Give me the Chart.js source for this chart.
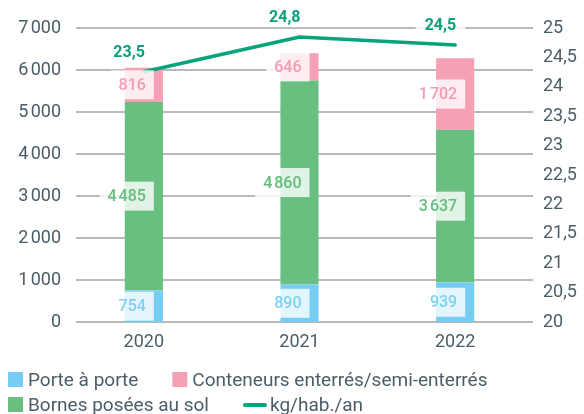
<!DOCTYPE html>
<html>
<head>
<meta charset="utf-8">
<script src="https://cdn.jsdelivr.net/npm/chart.js@4/dist/chart.umd.min.js"></script>
<style>
html,body{margin:0;padding:0;background:#ffffff;}
#wrap{width:584px;height:414px;position:relative;}
</style>
</head>
<body>
<div id="wrap"><canvas id="c" width="584" height="414"></canvas></div>
<script>
// ---- Data ----
const categories = ['2020', '2021', '2022'];
const porteAPorte = [754, 890, 939];          // Porte à porte
const bornesSol = [4485, 4860, 3637];         // Bornes posées au sol
const conteneurs = [816, 646, 1702];          // Conteneurs enterrés/semi-enterrés
const kgHabAn = [23.5, 24.8, 24.5];           // kg/hab./an
const leftTicks = [0, 1000, 2000, 3000, 4000, 5000, 6000, 7000];
const rightTicks = [20, 20.5, 21, 21.5, 22, 22.5, 23, 23.5, 24, 24.5, 25];

// ---- Styles ----
const FONT = 'Roboto, "Open Sans", sans-serif';
const AXIS_COLOR = '#4b5d67';
const C_BLUE = '#76cdf3';
const C_GREEN = '#68bf80';
const C_PINK = '#f4a1b6';
const C_LINE = '#06a47c';
const L_BLUE = '#7fd0f3';
const L_GREEN = '#64bb7c';
const L_PINK = '#f39cb3';
const L_LINE = '#0a9f79';

const fmtThousands = (v, sep) => {
  const s = String(Math.round(v));
  return s.replace(/\B(?=(\d{3})+(?!\d))/g, sep);
};
const fmtDecimal = v => String(v).replace('.', ',');

const gridPlugin = {
  id: 'gridPlugin',
  beforeDatasetsDraw(chart) {
    const ctx = chart.ctx;
    const y = chart.scales.y;
    const {left, right} = chart.chartArea;
    ctx.save();
    ctx.strokeStyle = '#a2a2a2';
    ctx.lineWidth = 1.5;
    y.ticks.forEach(t => {
      const py = Math.round(y.getPixelForValue(t.value));
      ctx.beginPath();
      ctx.moveTo(left + 10, py);
      ctx.lineTo(right, py);
      ctx.stroke();
    });
    ctx.restore();
  }
};

const labelPlugin = {
  id: 'labelPlugin',
  afterDatasetsDraw(chart) {
    const ctx = chart.ctx;
    ctx.save();
    // bar labels
    const barColors = [L_BLUE, L_GREEN, L_PINK];
    [0, 1, 2].forEach(di => {
      const meta = chart.getDatasetMeta(di);
      const ds = chart.data.datasets[di];
      meta.data.forEach((el, i) => {
        const v = ds.data[i];
        const txt = fmtThousands(v, '\u202F');
        ctx.font = '500 16px ' + FONT;
        const w = ctx.measureText(txt).width;
        const right = el.x + 2;
        const cy = (el.y + el.base) / 2;
        ctx.fillStyle = 'rgba(255,255,255,0.8)';
        ctx.fillRect(right - w - 8, cy - 14.5, w + 16, 29);
        ctx.fillStyle = barColors[di];
        ctx.textAlign = 'right';
        ctx.textBaseline = 'middle';
        ctx.fillText(txt, right, cy + 1);
      });
    });
    // line labels
    const lmeta = chart.getDatasetMeta(3);
    lmeta.data.forEach((pt, i) => {
      const txt = fmtDecimal(kgHabAn[i]);
      ctx.font = 'bold 16px ' + FONT;
      const w = ctx.measureText(txt).width;
      const right = pt.x + 1;
      const cy = pt.y - 20;
      ctx.fillStyle = 'rgba(255,255,255,0.85)';
      ctx.fillRect(right - w - 9, cy - 10, w + 18, 20);
      ctx.fillStyle = L_LINE;
      ctx.textAlign = 'right';
      ctx.textBaseline = 'middle';
      ctx.fillText(txt, right, cy + 1);
    });
    ctx.restore();
  }
};

const legendPlugin = {
  id: 'customLegend',
  afterDraw(chart) {
    const ctx = chart.ctx;
    const order = [0, 2, 1, 3];
    const rowsY = [chart.height - 34, chart.height - 9];
    let x = 8, row = 0;
    ctx.save();
    ctx.font = '19px ' + FONT;
    ctx.textBaseline = 'middle';
    ctx.textAlign = 'left';
    order.forEach(di => {
      const ds = chart.data.datasets[di];
      const isLine = ds.type === 'line';
      const markW = isLine ? 22 : 15;
      const tw = ctx.measureText(ds.label).width;
      const itemW = markW + 5 + tw;
      if (x > 8 && x + itemW > chart.width - 4) { row++; x = 8; }
      const cy = rowsY[row];
      if (isLine) {
        ctx.strokeStyle = ds.borderColor;
        ctx.lineWidth = 4;
        ctx.lineCap = 'round';
        ctx.beginPath();
        ctx.moveTo(x + 2, cy);
        ctx.lineTo(x + markW, cy);
        ctx.stroke();
      } else {
        ctx.fillStyle = ds.backgroundColor;
        ctx.fillRect(x, cy - 8, 15, 15);
      }
      ctx.fillStyle = AXIS_COLOR;
      ctx.fillText(ds.label, x + markW + 5, cy + 1);
      x += itemW + 34;
    });
    ctx.restore();
  }
};

new Chart(document.getElementById('c'), {
  data: {
    labels: categories,
    datasets: [
      {type: 'bar', label: 'Porte à porte', data: porteAPorte, backgroundColor: C_BLUE, yAxisID: 'y', stack: 's', order: 1},
      {type: 'bar', label: 'Bornes posées au sol', data: bornesSol, backgroundColor: C_GREEN, yAxisID: 'y', stack: 's', order: 1},
      {type: 'bar', label: 'Conteneurs enterrés/semi-enterrés', data: conteneurs, backgroundColor: C_PINK, yAxisID: 'y', stack: 's', order: 1},
      {type: 'line', label: 'kg/hab./an', data: kgHabAn, borderColor: C_LINE, backgroundColor: C_LINE, borderWidth: 3.5,
        pointRadius: 0, tension: 0, yAxisID: 'yLine', order: 0, borderCapStyle: 'round', borderJoinStyle: 'round'}
    ]
  },
  options: {
    responsive: false,
    animation: false,
    devicePixelRatio: 1,
    layout: {padding: {left: 0, right: 0, top: 28, bottom: 56}},
    datasets: {bar: {categoryPercentage: 1, barPercentage: 0.245, borderWidth: 0}},
    plugins: {legend: {display: false}, tooltip: {enabled: false}},
    scales: {
      x: {
        stacked: true,
        grid: {display: false, drawTicks: false},
        border: {display: false},
        ticks: {color: AXIS_COLOR, font: {family: FONT, size: 18}, padding: 10},
        afterFit(s) { s.height = 36; }
      },
      y: {
        stacked: true,
        position: 'left',
        min: 0, max: 7000,
        grid: {display: false, drawTicks: false},
        border: {display: false},
        afterBuildTicks(s) { s.ticks = leftTicks.map(v => ({value: v})); },
        ticks: {color: AXIS_COLOR, font: {family: FONT, size: 18}, padding: 5,
          callback: v => fmtThousands(v, '\u202F')},
        afterFit(s) { s.width = 66; }
      },
      y2: {
        position: 'right',
        min: 20, max: 25,
        grid: {display: false, drawTicks: false},
        border: {display: false},
        afterBuildTicks(s) { s.ticks = rightTicks.map(v => ({value: v})); },
        ticks: {color: AXIS_COLOR, font: {family: FONT, size: 18}, padding: 10,
          callback: v => fmtDecimal(v)},
        afterFit(s) { s.width = 51; }
      },
      yLine: {
        display: false,
        min: 14.1, max: 25.14
      }
    }
  },
  plugins: [gridPlugin, labelPlugin, legendPlugin]
});
</script>
</body>
</html>
